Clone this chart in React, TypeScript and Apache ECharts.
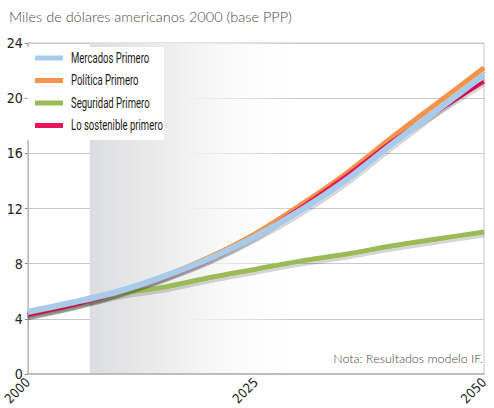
import React, { useEffect, useRef } from "react";
import * as echarts from "echarts";

const years = [2000, 2005, 2010, 2015, 2020, 2025, 2030, 2035, 2040, 2045, 2050];
const mercados = [4.5, 5.2, 6.0, 7.1, 8.4, 10.0, 11.9, 14.1, 16.7, 19.2, 21.7];
const politica = [4.3, 5.0, 5.9, 7.1, 8.5, 10.2, 12.3, 14.6, 17.2, 19.7, 22.2];
const seguridad = [4.3, 5.0, 5.8, 6.3, 7.0, 7.6, 8.2, 8.7, 9.3, 9.8, 10.3];
const sostenible = [4.3, 5.0, 5.9, 7.0, 8.3, 10.0, 12.1, 14.4, 16.9, 19.1, 21.2];
const seriesNames = ["Mercados Primero", "Política Primero", "Seguridad Primero", "Lo sostenible primero"];
const seriesColors = ["#a9cbea", "#f7934a", "#9bbb59", "#e8175d"];
const xTicks = [2000, 2025, 2050];
const bandRange = [2006.8, 2030];

const title = "Miles de dólares americanos 2000 (base PPP)";
const note = "Nota: Resultados modelo IF.";

const condensed = "'DejaVu Sans Condensed', 'Roboto', sans-serif";

export default function App() {
  const ref = useRef<HTMLDivElement>(null);
  useEffect(() => {
    if (!ref.current) return;
    const chart = echarts.init(ref.current, undefined, { renderer: "svg" });
    const pair = (arr: number[]) => years.map((y, i) => [y, arr[i]]);
    const shadow = { shadowColor: "rgba(0,0,0,0.16)", shadowOffsetY: 3, shadowBlur: 0 };
    const mk = (idx: number, data: number[], width: number, z: number) => ({
      name: seriesNames[idx],
      type: "line",
      data: pair(data),
      smooth: 0.3,
      symbol: "none",
      z,
      lineStyle: { color: seriesColors[idx], width, ...shadow },
      itemStyle: { color: seriesColors[idx] },
    });
    const legendChildren: any[] = [
      { type: "rect", z: 100, shape: { x: 0, y: 0, width: 137, height: 93 }, style: { fill: "#ffffff" } },
    ];
    seriesNames.forEach((n, i) => {
      const cy = 11 + i * 22.5;
      legendChildren.push({
        type: "rect",
        z: 101,
        shape: { x: 8, y: cy - 2.5, width: 28, height: 5 },
        style: { fill: seriesColors[i] },
      });
      legendChildren.push({
        type: "text",
        z: 101,
        x: 44,
        y: cy,
        scaleX: 0.68,
        style: {
          text: n,
          fontFamily: "Roboto",
          fontSize: 14,
          fill: "#1a1a1a",
          verticalAlign: "middle",
        },
      });
    });
    chart.setOption({
      animation: false,
      textStyle: { fontFamily: condensed },
      title: {
        text: title,
        left: 4,
        top: 4,
        textStyle: { fontFamily: "Lato", fontWeight: 300, fontSize: 14.5, color: "#4a4a4a" },
      },
      graphic: [
        { type: "group", left: 27, top: 47, z: 100, children: legendChildren },
        {
          type: "text",
          right: 11,
          top: 352,
          style: { text: note, fontFamily: "Lato", fontWeight: 300, fontSize: 12.5, fill: "#444" },
          z: 100,
        },
      ],
      grid: {
        left: 25,
        right: 10,
        top: 43,
        bottom: 34,
        show: true,
        borderColor: "#c4c4c4",
        borderWidth: 1,
      },
      xAxis: {
        type: "value",
        min: 2000,
        max: 2050,
        interval: 25,
        axisLine: { show: true, lineStyle: { color: "#bdbdbd", width: 2 } },
        axisTick: { show: false },
        splitLine: { show: false },
        axisLabel: {
          rotate: 45,
          fontSize: 13,
          color: "#222",
          fontFamily: condensed,
          margin: 6,
          formatter: (v: number) => (xTicks.includes(v) ? String(v) : ""),
        },
      },
      yAxis: {
        type: "value",
        min: 0,
        max: 24,
        interval: 4,
        axisLine: { show: true, lineStyle: { color: "#bdbdbd", width: 1 } },
        axisTick: { show: true, length: 3, lineStyle: { color: "#888" } },
        splitLine: { show: true, lineStyle: { color: "#c8c8c8", width: 1 } },
        axisLabel: { fontSize: 14, color: "#222", fontFamily: condensed, margin: 5 },
      },
      series: [
        {
          ...mk(1, politica, 5, 2),
          markArea: {
            silent: true,
            z: 0,
            itemStyle: {
              color: new echarts.graphic.LinearGradient(0, 0, 1, 0, [
                { offset: 0, color: "#dcdddf" },
                { offset: 0.45, color: "#f1f1f1" },
                { offset: 1, color: "rgba(255,255,255,0)" },
              ]),
            },
            data: [[{ xAxis: bandRange[0] }, { xAxis: bandRange[1] }]],
          },
        },
        mk(2, seguridad, 5, 3),
        mk(3, sostenible, 4, 4),
        mk(0, mercados, 6, 5),
      ],
    });
    return () => chart.dispose();
  }, []);
  return <div ref={ref} style={{ width: 494, height: 408, position: "absolute", left: 0, top: 0 }} />;
}
